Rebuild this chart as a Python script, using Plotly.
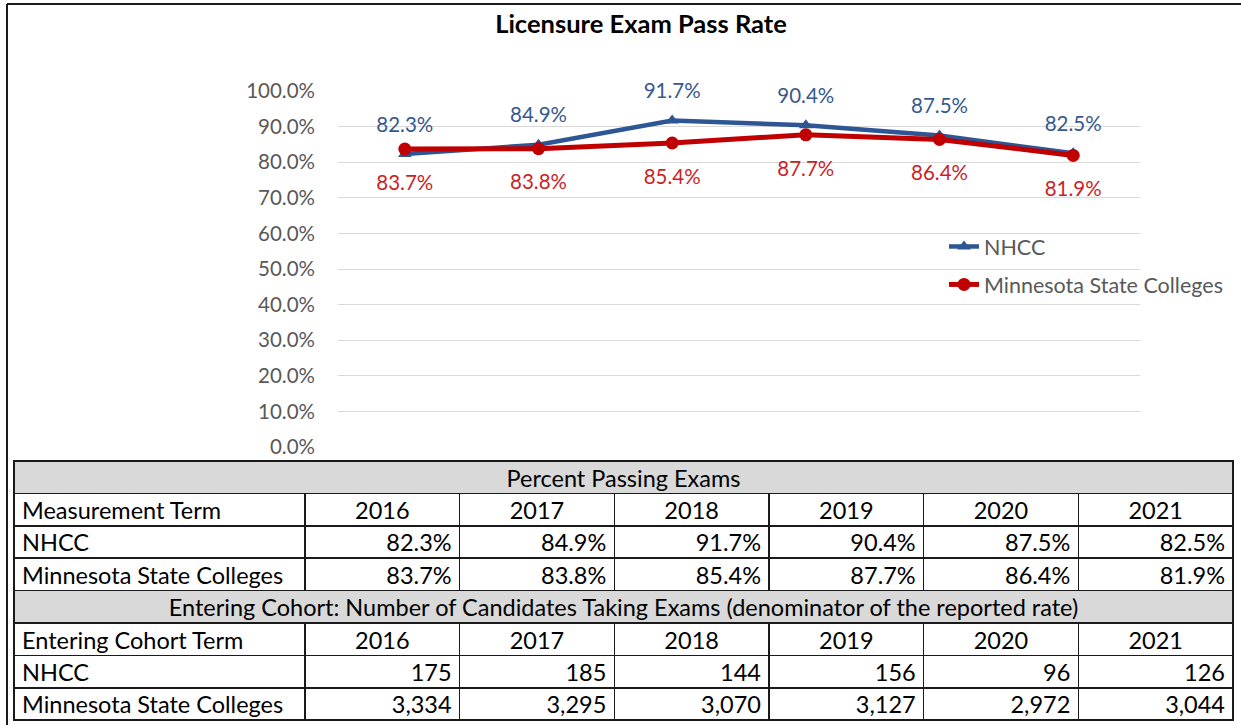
import plotly.graph_objects as go

years = ["2016", "2017", "2018", "2019", "2020", "2021"]
nhcc_rate = [0.823, 0.849, 0.917, 0.904, 0.875, 0.825]
mnsc_rate = [0.837, 0.838, 0.854, 0.877, 0.864, 0.819]
nhcc_n = [175, 185, 144, 156, 96, 126]
mnsc_n = [3334, 3295, 3070, 3127, 2972, 3044]
row_names = ["NHCC", "Minnesota State Colleges"]

W, H = 1241, 725
FONT = "Lato, 'Open Sans', sans-serif"
BLUE = "#2E5594"
RED = "#C00000"
BLUE_TXT = "#35598F"
RED_TXT = "#CC1F25"
GRAY = "#595959"


def px(x):
    return x / W


def py(y):
    return 1 - y / H


fig = go.Figure()

fig.add_trace(go.Scatter(
    x=years, y=nhcc_rate, name="NHCC", mode="lines+markers", legendgroup="a",
    line=dict(color=BLUE, width=4.5),
    marker=dict(symbol="triangle-up", size=12, color=BLUE),
    hoverinfo="skip"))
fig.add_trace(go.Scatter(
    x=years, y=mnsc_rate, name="Minnesota State Colleges", mode="lines+markers",
    legendgroup="b", line=dict(color=RED, width=5),
    marker=dict(symbol="circle", size=13, color=RED),
    hoverinfo="skip"))

# data labels: invisible big markers push the text away from the points
fig.add_trace(go.Scatter(
    x=years, y=nhcc_rate, mode="markers+text", showlegend=False, hoverinfo="skip",
    marker=dict(size=26, opacity=0), texttemplate="%{y:.1%}", textposition="top center",
    textfont=dict(size=20.5, color=BLUE_TXT, family=FONT), cliponaxis=False))
fig.add_trace(go.Scatter(
    x=years, y=mnsc_rate, mode="markers+text", showlegend=False, hoverinfo="skip",
    marker=dict(size=39, opacity=0), texttemplate="%{y:.1%}", textposition="bottom center",
    textfont=dict(size=20.5, color=RED_TXT, family=FONT), cliponaxis=False))

# table below the chart; grey title rows are separate one-column tables
col_w = [291] + [154.7] * 6
tfont = dict(family=FONT, size=23.5, color="black")
tline = dict(color="#1a1a1a", width=1.6)
noline = dict(color="white", width=0)
ROW = 32.4
top = 461


def band(y0, title):
    # header is the grey row; the blank cell row underneath gets covered by the next table
    fig.add_trace(go.Table(
        domain=dict(x=[px(14), px(1233)], y=[py(y0 + 2 * ROW + 2), py(y0)]),
        header=dict(values=[title], fill_color="#D9D9D9", line=tline,
                    height=ROW, align="center", font=tfont),
        cells=dict(values=[[""]], height=ROW, line=noline, fill_color="white")))


def block(y0, label, a, b, fmt):
    fig.add_trace(go.Table(
        domain=dict(x=[px(14), px(1233)], y=[py(y0 + 3 * ROW + 2), py(y0)]),
        columnwidth=col_w,
        header=dict(values=[label] + years, fill_color="white", line=tline,
                    height=ROW, align=["left"] + ["center"] * 6, font=tfont),
        cells=dict(values=[row_names] + [[a[i], b[i]] for i in range(6)],
                   format=[""] + [fmt] * 6, fill_color="white", line=tline,
                   height=ROW, align=["left"] + ["right"] * 6, font=tfont)))


band(top, "Percent Passing Exams")
block(top + ROW, "Measurement Term", nhcc_rate, mnsc_rate, ".1%")
band(top + 4 * ROW,
     "Entering Cohort: Number of Candidates Taking Exams (denominator of the reported rate)")
block(top + 5 * ROW, "Entering Cohort Term", nhcc_n, mnsc_n, ",")

# outer frame (top and left edges visible in the reference)
fig.add_shape(type="line", xref="paper", yref="paper", x0=px(7), x1=1, y0=py(4), y1=py(4),
              line=dict(color="#1a1a1a", width=2))
fig.add_shape(type="line", xref="paper", yref="paper", x0=px(7), x1=px(7), y0=py(4), y1=0,
              line=dict(color="#1a1a1a", width=2))

fig.update_layout(
    width=W, height=H,
    margin=dict(l=0, r=0, t=0, b=0, autoexpand=False),
    paper_bgcolor="white", plot_bgcolor="white",
    font=dict(family=FONT, color=GRAY),
    title=dict(text="<b>Licensure Exam Pass Rate</b>", x=px(641), y=py(24),
               xanchor="center", yanchor="middle",
               font=dict(size=25.5, color="black", family=FONT)),
    xaxis=dict(type="category", domain=[px(338), px(1140)], range=[-0.5, 5.5],
               showticklabels=False, showgrid=False, zeroline=False, showline=False,
               automargin=False),
    yaxis=dict(domain=[py(447), py(91)], range=[0, 1], dtick=0.1, tickformat=".1%",
               showgrid=True, gridcolor="#D9D9D9", gridwidth=1, zeroline=False,
               showline=False, ticks="", ticklabelstandoff=22, automargin=False,
               tickfont=dict(size=20.5, color=GRAY, family=FONT)),
    legend=dict(x=px(944), y=py(226), xanchor="left", yanchor="top",
                bgcolor="rgba(0,0,0,0)", tracegroupgap=7,
                font=dict(size=21.5, color=GRAY, family=FONT)),
)

fig.write_html("out.html", config={"displayModeBar": False},
               post_script="document.body.style.margin='0';")
